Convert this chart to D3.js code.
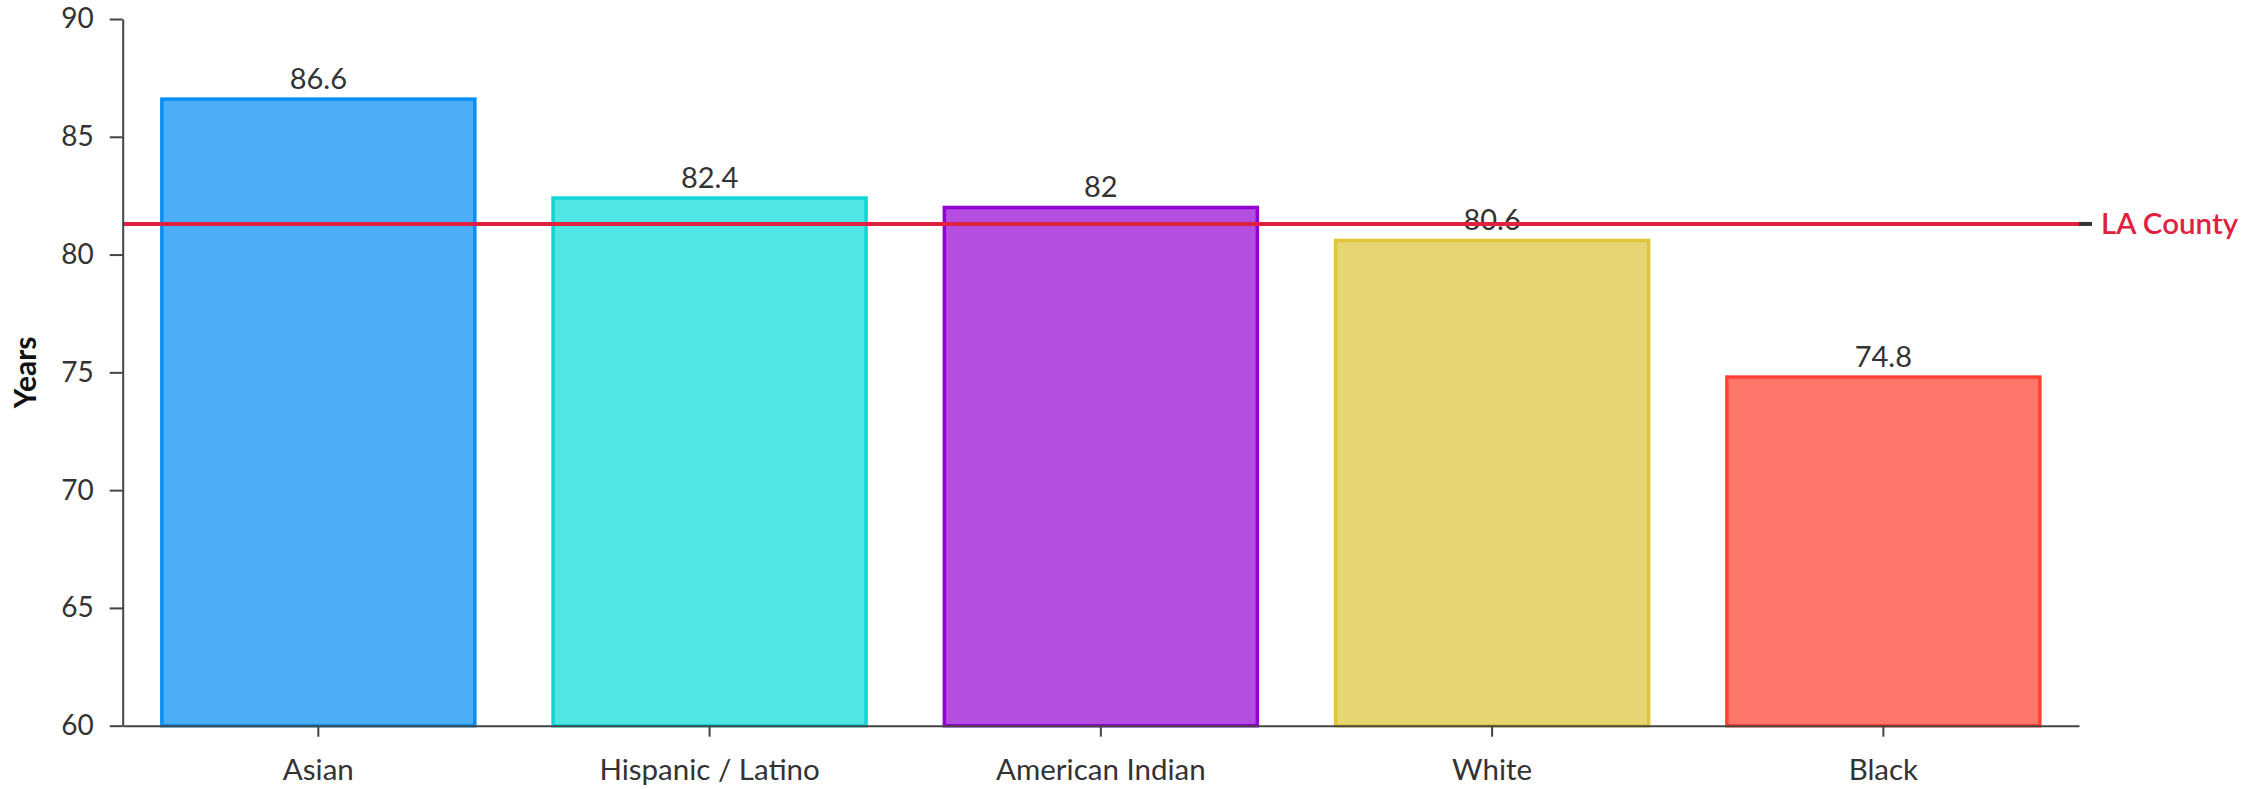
<!DOCTYPE html>
<html>
<head>
<meta charset="utf-8">
<script src="https://cdn.jsdelivr.net/npm/d3@7"></script>
<style>
  html, body { margin: 0; padding: 0; background: #fff; }
  svg { display: block; font-family: Lato, "Open Sans", sans-serif; }
</style>
</head>
<body>
<svg id="chart" width="2264" height="789"></svg>
<script>
const categories = ["Asian", "Hispanic / Latino", "American Indian", "White", "Black"];
const values = [86.6, 82.4, 82, 80.6, 74.8];
const valueLabels = ["86.6", "82.4", "82", "80.6", "74.8"];
const fillColors = ["#4BAEF7", "#4FE6E3", "#B44EE0", "#E6D572", "#FF766B"];
const strokeColors = ["#0A8EF2", "#12D4D4", "#9400D3", "#E0C43A", "#FF4034"];
const yTicks = [60, 65, 70, 75, 80, 85, 90];
const referenceValue = 81.3;
const referenceLabel = "LA County";
const yTitle = "Years";

const svg = d3.select("#chart");
const margin = { left: 122.7, right: 2264 - 2079, top: 19, bottom: 789 - 725.7 };
const W = 2264, H = 789;

const x = d3.scaleBand()
  .domain(categories)
  .range([margin.left, W - margin.right])
  .paddingInner(0.2)
  .paddingOuter(0.1);

const y = d3.scaleLinear()
  .domain([60, 90])
  .range([H - margin.bottom, margin.top]);

const data = categories.map((c, i) => ({ c, v: values[i], label: valueLabels[i], fill: fillColors[i], stroke: strokeColors[i] }));

// bars
svg.append("g").selectAll("rect").data(data).join("rect")
  .attr("x", d => x(d.c))
  .attr("y", d => y(d.v))
  .attr("width", x.bandwidth())
  .attr("height", d => y(60) - y(d.v))
  .attr("fill", d => d.fill)
  .attr("stroke", d => d.stroke)
  .attr("stroke-width", 3.5);

// value labels
svg.append("g").selectAll("text").data(data).join("text")
  .attr("x", d => x(d.c) + x.bandwidth() / 2)
  .attr("y", d => y(d.v) - 10)
  .attr("text-anchor", "middle")
  .attr("font-size", 29)
  .attr("fill", "#333")
  .text(d => d.label);

// reference line
svg.append("line")
  .attr("x1", margin.left).attr("x2", W - margin.right)
  .attr("y1", y(referenceValue)).attr("y2", y(referenceValue))
  .attr("stroke", "#E0203F").attr("stroke-width", 4);
svg.append("line")
  .attr("x1", W - margin.right).attr("x2", W - margin.right + 13)
  .attr("y1", y(referenceValue)).attr("y2", y(referenceValue))
  .attr("stroke", "#333").attr("stroke-width", 4);
svg.append("text")
  .attr("x", W - margin.right + 22)
  .attr("y", y(referenceValue))
  .attr("dy", "0.35em")
  .attr("font-size", 29.5)
  .attr("font-weight", 600)
  .attr("fill", "#E0203F")
  .text(referenceLabel);

// y axis
const yAxis = svg.append("g")
  .attr("transform", `translate(${margin.left},0)`)
  .call(d3.axisLeft(y).tickValues(yTicks).tickSize(13).tickPadding(16).tickSizeOuter(0));
yAxis.select(".domain").attr("stroke", "#444").attr("stroke-width", 2);
yAxis.selectAll(".tick line").attr("stroke", "#444").attr("stroke-width", 2);
yAxis.selectAll(".tick text").attr("font-size", 28).attr("fill", "#333").attr("font-family", "Lato, sans-serif");

// x axis
const xAxis = svg.append("g")
  .attr("transform", `translate(0,${y(60)})`)
  .call(d3.axisBottom(x).tickSize(11).tickPadding(22).tickSizeOuter(0));
xAxis.select(".domain").attr("stroke", "#444").attr("stroke-width", 2);
xAxis.selectAll(".tick line").attr("stroke", "#444").attr("stroke-width", 2);
xAxis.selectAll(".tick text").attr("font-size", 29.5).attr("fill", "#333").attr("font-family", "Lato, sans-serif");

// y title
svg.append("text")
  .attr("transform", `translate(36,${(y(60) + y(90)) / 2}) rotate(-90)`)
  .attr("text-anchor", "middle")
  .attr("font-size", 30)
  .attr("font-weight", 700)
  .attr("fill", "#111")
  .text(yTitle);
</script>
</body>
</html>
